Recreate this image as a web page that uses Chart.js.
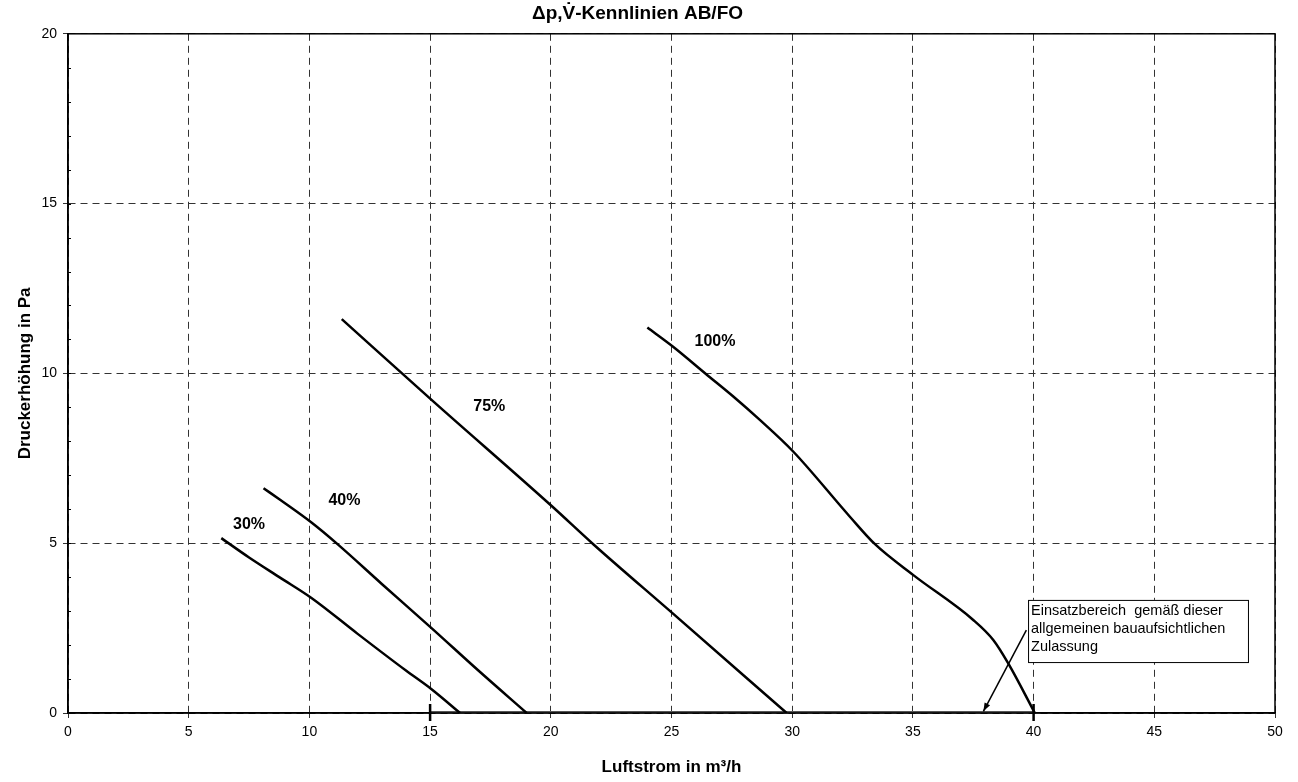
<!DOCTYPE html>
<html>
<head>
<meta charset="utf-8">
<script src="https://cdn.jsdelivr.net/npm/chart.js@4/dist/chart.umd.min.js"></script>
<style>
  body { margin: 0; background: #fff; }
  canvas { display: block; }
</style>
</head>
<body>
<canvas id="chart" width="1298" height="782"></canvas>
<script>
// --- Kennlinien (Luftstrom m³/h -> Druckerhöhung Pa) ---
const flow30 = [6.35, 7.5, 8.8, 10.1, 12.0, 14.0, 15.06, 16.24];
const dp30   = [5.15, 4.58, 3.98, 3.38, 2.33, 1.25, 0.7, 0];

const flow40 = [8.1, 8.8, 10.1, 11.2, 13.0, 15.06, 17.0, 19.0];
const dp40   = [6.62, 6.27, 5.6, 4.95, 3.8, 2.5, 1.25, 0];

const flow75 = [11.34, 15.06, 20.06, 21.76, 25.04, 29.77];
const dp75   = [11.6, 9.22, 6.08, 4.97, 2.94, 0];

const flow100 = [24.0, 25.04, 26.45, 27.56, 28.66, 30.04, 32.39, 33.43, 35.02, 37.5, 38.33, 38.95, 40.05];
const dp100   = [11.35, 10.8, 9.97, 9.32, 8.63, 7.7, 5.78, 4.97, 4.06, 2.74, 2.15, 1.46, 0];

// Einsatzbereich 15..40 m³/h
const rangeFlow = [15, 40];
const rangeDp = [0, 0];

// curve labels (data coords)
const curveNames = ['30%', '40%', '75%', '100%'];
const curveLabelFlow = [7.5, 11.45, 17.45, 26.8];
const curveLabelDp = [5.55, 6.25, 9.02, 10.95];

const noteLines = ['Einsatzbereich  gemäß dieser', 'allgemeinen bauaufsichtlichen', 'Zulassung'];

const FONT = '"Liberation Sans", Arial, sans-serif';

function pts(xs, ys) {
    return xs.map((v, i) => ({ x: v, y: ys[i] }));
}

function curve(xs, ys) {
    return {
        data: pts(xs, ys),
        showLine: true,
        borderColor: '#000',
        borderWidth: 2.5,
        pointRadius: 0,
        cubicInterpolationMode: 'monotone',
        fill: false
    };
}

// --- frame, minor ticks, labels and the note box ---
const overlay = {
    id: 'overlay',
    afterDatasetsDraw(chart) {
        const { ctx, chartArea: a, scales: { x, y } } = chart;
        ctx.save();

        // minor ticks on the y axis
        ctx.strokeStyle = '#000';
        ctx.lineWidth = 1;
        for (let v = 1; v < 20; v++) {
            const py = Math.round(y.getPixelForValue(v)) + 0.5;
            ctx.beginPath();
            ctx.moveTo(a.left, py);
            ctx.lineTo(a.left + 3, py);
            ctx.stroke();
        }

        // range end markers
        ctx.lineWidth = 2.5;
        rangeFlow.forEach(v => {
            const px = x.getPixelForValue(v);
            ctx.beginPath();
            ctx.moveTo(px, a.bottom - 9);
            ctx.lineTo(px, a.bottom + 8);
            ctx.stroke();
        });

        // frame
        ctx.lineWidth = 1.5;
        ctx.strokeRect(a.left, a.top, a.right - a.left, a.bottom - a.top);

        // curve labels
        ctx.fillStyle = '#000';
        ctx.font = 'bold 16px ' + FONT;
        ctx.textAlign = 'center';
        ctx.textBaseline = 'middle';
        curveNames.forEach((t, i) => {
            ctx.fillText(t, x.getPixelForValue(curveLabelFlow[i]), y.getPixelForValue(curveLabelDp[i]));
        });

        // note box
        const bx = x.getPixelForValue(39.77), by = y.getPixelForValue(3.33);
        const bw = x.getPixelForValue(48.88) - bx, bh = y.getPixelForValue(1.5) - by;
        ctx.fillStyle = '#fff';
        ctx.fillRect(bx, by, bw, bh);
        ctx.strokeStyle = '#000';
        ctx.lineWidth = 1;
        ctx.strokeRect(bx + 0.5, by + 0.5, bw, bh);
        ctx.fillStyle = '#000';
        ctx.font = '14.5px ' + FONT;
        ctx.textAlign = 'left';
        noteLines.forEach((t, i) => ctx.fillText(t, bx + 3, by + 11 + i * 18));

        // arrow from the box to the range line
        const ax0 = x.getPixelForValue(39.7), ay0 = y.getPixelForValue(2.44);
        const ax1 = x.getPixelForValue(37.92), ay1 = y.getPixelForValue(0.05);
        ctx.lineWidth = 1.5;
        ctx.beginPath();
        ctx.moveTo(ax0, ay0);
        ctx.lineTo(ax1, ay1);
        ctx.stroke();
        const ang = Math.atan2(ay1 - ay0, ax1 - ax0);
        ctx.beginPath();
        ctx.moveTo(ax1, ay1);
        ctx.lineTo(ax1 - 9 * Math.cos(ang - 0.35), ay1 - 9 * Math.sin(ang - 0.35));
        ctx.lineTo(ax1 - 9 * Math.cos(ang + 0.35), ay1 - 9 * Math.sin(ang + 0.35));
        ctx.closePath();
        ctx.fill();

        ctx.restore();
    }
};

new Chart(document.getElementById('chart'), {
    type: 'scatter',
    data: {
        datasets: [
            curve(flow30, dp30),
            curve(flow40, dp40),
            curve(flow75, dp75),
            curve(flow100, dp100),
            {
                data: pts(rangeFlow, rangeDp),
                showLine: true,
                borderColor: '#555',
                borderWidth: 4,
                pointRadius: 0
            }
        ]
    },
    options: {
        responsive: false,
        animation: false,
        layout: { padding: { left: 0, right: 23, top: 0, bottom: 0 } },
        plugins: {
            legend: { display: false },
            tooltip: { enabled: false },
            title: {
                display: true,
                text: 'Δp,V̇-Kennlinien AB/FO',
                color: '#000',
                font: { family: FONT, size: 19, weight: 'bold' },
                padding: { top: 2, bottom: 9 }
            }
        },
        scales: {
            x: {
                type: 'linear',
                min: 0,
                max: 50,
                ticks: { stepSize: 5, color: '#000', font: { family: FONT, size: 14 }, padding: 6 },
                grid: { color: '#333', lineWidth: 1, tickLength: 5 },
                border: { display: true, color: '#000', width: 1.5, dash: [7, 5] },
                title: {
                    display: true,
                    text: 'Luftstrom in m³/h',
                    color: '#000',
                    font: { family: FONT, size: 17, weight: 'bold' },
                    padding: { top: 0, bottom: 4 }
                },
                afterFit(s) { s.height = 69; }
            },
            y: {
                type: 'linear',
                min: 0,
                max: 20,
                ticks: { stepSize: 5, color: '#000', font: { family: FONT, size: 14 }, padding: 6 },
                grid: { color: '#333', lineWidth: 1, tickLength: 5 },
                border: { display: true, color: '#000', width: 1.5, dash: [7, 5] },
                title: {
                    display: true,
                    text: 'Druckerhöhung in Pa',
                    color: '#000',
                    font: { family: FONT, size: 17, weight: 'bold' },
                    padding: { top: 15, bottom: 0 }
                },
                afterFit(s) { s.width = 68; }
            }
        }
    },
    plugins: [overlay]
});
</script>
</body>
</html>
